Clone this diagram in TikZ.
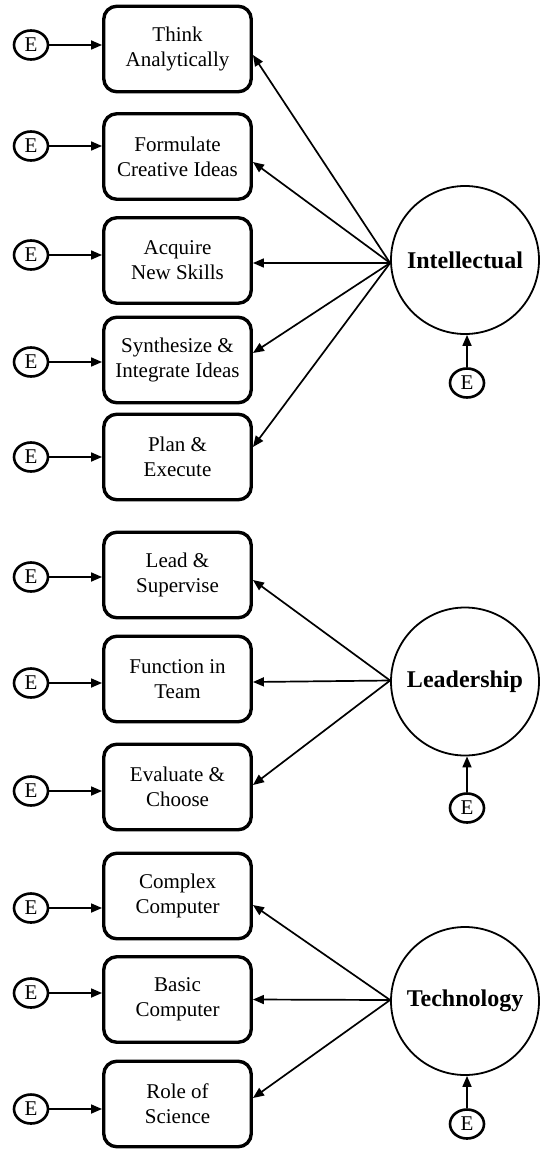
\documentclass[tikz,border=0pt]{standalone}
\usepackage{fontspec}
\setmainfont{Liberation Serif}
\usetikzlibrary{arrows.meta,shapes.geometric}
\begin{document}
\begin{tikzpicture}[x=1pt,y=-1pt,
  measure/.style={draw, line width=3.4pt, rounded corners=13pt,
    minimum width=147.5pt, minimum height=85.5pt, inner sep=0pt,
    align=center, font=\fontsize{21}{25}\selectfont},
  err/.style={draw, ellipse, line width=2.6pt, minimum width=34pt,
    minimum height=29pt, inner sep=0pt, font=\fontsize{21}{25}\selectfont},
  factor/.style={draw, circle, line width=1.8pt, minimum size=148pt,
    inner sep=0pt, font=\bfseries\fontsize{24}{28}\selectfont},
  link/.style={line width=1.7pt, -{Triangle[length=11pt,width=9pt]}}]
\useasboundingbox (0,0) rectangle (543,1150);

% observed indicators
\node[measure] (b1)  at (177.5,49)    {Think\\Analytically};
\node[measure] (b2)  at (177.5,156.5) {Formulate\\Creative Ideas};
\node[measure] (b3)  at (177.5,260.5) {Acquire\\New Skills};
\node[measure] (b4)  at (177.5,360)   {Synthesize \&\\Integrate Ideas};
\node[measure] (b5)  at (177.5,457)   {Plan \&\\Execute};
\node[measure] (b6)  at (177.5,575)   {Lead \&\\Supervise};
\node[measure] (b7)  at (177.5,679)   {Function in\\Team};
\node[measure] (b8)  at (177.5,787)   {Evaluate \&\\Choose};
\node[measure] (b9)  at (177.5,896)   {Complex\\Computer};
\node[measure] (b10) at (177.5,999.5) {Basic\\Computer};
\node[measure] (b11) at (177.5,1104)  {Role of\\Science};

% error terms of the indicators
\foreach \n/\y in {1/45,2/146,3/255,4/362,5/457,6/577,7/683,8/791,9/908,10/993,11/1109}{
  \node[err] (e\n) at (31,\y) {E};
  \draw[link] (e\n) -- (e\n -| b\n.west);
}

% latent factors
\node[factor] (I) at (465,260)   {Intellectual};
\node[factor] (L) at (465,681.5) {Leadership};
\node[factor] (T) at (465,1001)  {Technology};

% factor disturbances
\node[err] (eI) at (467,383)  {E};
\node[err] (eL) at (467,808)  {E};
\node[err] (eT) at (467,1124) {E};
\draw[link] (eI) -- (eI |- I.south);
\draw[link] (eL) -- (eL |- L.south);
\draw[link] (eT) -- (eT |- T.south);

% loadings
\coordinate (Ic) at ([yshift=-3pt]I.west);
\coordinate (Lc) at ([yshift=1pt]L.west);
\coordinate (Tc) at ([yshift=1pt]T.west);
\draw[link] (Ic) -- ([yshift=-6pt]b1.east);
\draw[link] (Ic) -- ([yshift=-5.5pt]b2.east);
\draw[link] (Ic) -- ([yshift=-2.5pt]b3.east);
\draw[link] (Ic) -- ([yshift=7pt]b4.east);
\draw[link] (Ic) -- ([yshift=10pt]b5.east);
\draw[link] (Lc) -- ([yshift=-5pt]b6.east);
\draw[link] (Lc) -- ([yshift=-3pt]b7.east);
\draw[link] (Lc) -- ([yshift=2pt]b8.east);
\draw[link] (Tc) -- ([yshift=-9pt]b9.east);
\draw[link] (Tc) -- ([yshift=0pt]b10.east);
\draw[link] (Tc) -- ([yshift=6pt]b11.east);
\end{tikzpicture}
\end{document}
